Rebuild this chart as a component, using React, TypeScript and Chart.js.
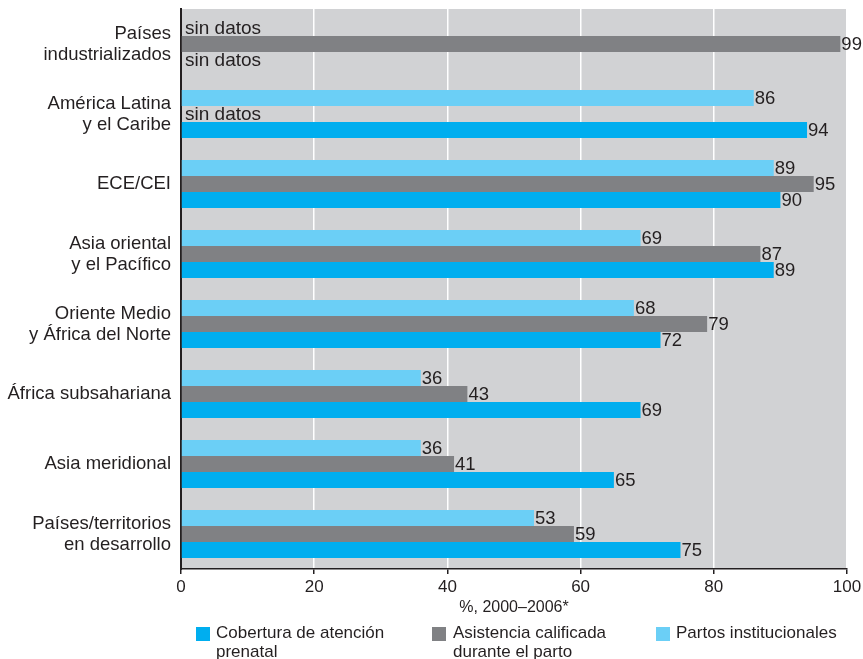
import React, { useEffect, useRef } from "react";
import { Chart, registerables } from "chart.js";

Chart.register(...registerables);

const categories: (string | string[])[] = [
  ["Países", "industrializados"],
  ["América Latina", "y el Caribe"],
  "ECE/CEI",
  ["Asia oriental", "y el Pacífico"],
  ["Oriente Medio", "y África del Norte"],
  "África subsahariana",
  "Asia meridional",
  ["Países/territorios", "en desarrollo"],
];

const partosInstitucionales: (number | null)[] = [null, 86, 89, 69, 68, 36, 36, 53];
const asistenciaCalificada: (number | null)[] = [99, null, 95, 87, 79, 43, 41, 59];
const coberturaPrenatal: (number | null)[] = [null, 94, 90, 89, 72, 69, 65, 75];

const xTicks = [0, 20, 40, 60, 80, 100];
const axisTitle = "%, 2000–2006*";
const missingText = "sin datos";

const COLORS = {
  partos: "#6bcff6",
  asistencia: "#808184",
  cobertura: "#00aeef",
  plot: "#d1d2d4",
  text: "#231f20",
};

const legendItems = [
  { label: ["Cobertura de atención", "prenatal"], color: COLORS.cobertura, left: 196, textLeft: 216 },
  { label: ["Asistencia calificada", "durante el parto"], color: COLORS.asistencia, left: 432, textLeft: 453 },
  { label: ["Partos institucionales"], color: COLORS.partos, left: 656, textLeft: 676 },
];

const SANS = '"Liberation Sans", Arial, Helvetica, sans-serif';

const bgPlugin = {
  id: "plotBg",
  beforeDraw(chart: any) {
    const { ctx, chartArea } = chart;
    ctx.save();
    ctx.fillStyle = COLORS.plot;
    ctx.fillRect(chartArea.left, chartArea.top, chartArea.right - chartArea.left, chartArea.bottom - chartArea.top);
    ctx.restore();
  },
};

const labelPlugin = {
  id: "valueLabels",
  afterDatasetsDraw(chart: any) {
    const { ctx, chartArea } = chart;
    ctx.save();
    ctx.fillStyle = COLORS.text;
    ctx.textBaseline = "middle";
    ctx.textAlign = "left";
    chart.data.datasets.forEach((ds: any, di: number) => {
      const meta = chart.getDatasetMeta(di);
      meta.data.forEach((el: any, i: number) => {
        const v = ds.data[i];
        if (v === null || v === undefined) {
          ctx.font = `19px ${SANS}`;
          ctx.fillText(missingText, chartArea.left + 4, el.y + 1);
        } else {
          ctx.font = `18.5px ${SANS}`;
          ctx.fillText(String(v), el.x + 1, el.y + 1);
        }
      });
    });
    ctx.restore();
  },
};

export default function App() {
  const ref = useRef<HTMLCanvasElement | null>(null);

  useEffect(() => {
    document.body.style.margin = "0";
    if (!ref.current) return;
    const chart = new Chart(ref.current, {
      type: "bar",
      data: {
        labels: categories as any,
        datasets: [
          { label: "Partos institucionales", data: partosInstitucionales as any, backgroundColor: COLORS.partos },
          { label: "Asistencia calificada durante el parto", data: asistenciaCalificada as any, backgroundColor: COLORS.asistencia },
          { label: "Cobertura de atención prenatal", data: coberturaPrenatal as any, backgroundColor: COLORS.cobertura },
        ],
      },
      options: {
        indexAxis: "y",
        animation: false,
        responsive: false,
        maintainAspectRatio: false,
        layout: { autoPadding: false, padding: { top: 9, right: 16, left: 0, bottom: 40 } },
        datasets: { bar: { categoryPercentage: 0.686, barPercentage: 1, borderWidth: 0 } },
        plugins: {
          legend: { display: false },
          tooltip: { enabled: false },
        },
        scales: {
          x: {
            min: 0,
            max: 100,
            afterBuildTicks(scale: any) {
              scale.ticks = xTicks.map((v) => ({ value: v }));
            },
            afterFit(scale: any) {
              scale.height = 50;
              scale.paddingLeft = 0;
              scale.paddingRight = 0;
            },
            grid: {
              color: (c: any) => (c.tick && c.tick.value === 0 ? "rgba(0,0,0,0)" : "#ffffff"),
              lineWidth: 1.5,
              tickColor: COLORS.text,
              tickLength: 5,
              drawOnChartArea: true,
            },
            border: { display: true, color: COLORS.text, width: 1.5 },
            ticks: {
              color: COLORS.text,
              font: { family: SANS, size: 17 },
              padding: 3,
              maxRotation: 0,
            },
            title: {
              display: true,
              text: axisTitle,
              color: COLORS.text,
              font: { family: SANS, size: 16 },
              padding: { top: 0, bottom: 2 },
            },
          },
          y: {
            afterFit(scale: any) {
              scale.width = 181;
              scale.paddingTop = 0;
              scale.paddingBottom = 0;
            },
            grid: { display: false },
            border: { display: true, color: COLORS.text, width: 2 },
            ticks: {
              color: COLORS.text,
              font: { family: SANS, size: 18.5, lineHeight: 1.14 },
              padding: 2,
            },
          },
        },
      },
      plugins: [bgPlugin, labelPlugin],
    } as any);
    return () => chart.destroy();
  }, []);

  return (
    <div style={{ position: "relative", width: 863, height: 659 }}>
      <canvas ref={ref} width={863} height={659} style={{ display: "block", width: 863, height: 659 }} />
      {legendItems.map((it, i) => (
        <React.Fragment key={i}>
          <div
            style={{
              position: "absolute",
              left: it.left,
              top: 627,
              width: 14,
              height: 14,
              background: it.color,
            }}
          />
          <div
            style={{
              position: "absolute",
              left: it.textLeft,
              top: 623,
              fontFamily: SANS,
              fontSize: 17,
              lineHeight: "19px",
              color: COLORS.text,
              whiteSpace: "nowrap",
            }}
          >
            {it.label.map((l, j) => (
              <div key={j}>{l}</div>
            ))}
          </div>
        </React.Fragment>
      ))}
    </div>
  );
}
